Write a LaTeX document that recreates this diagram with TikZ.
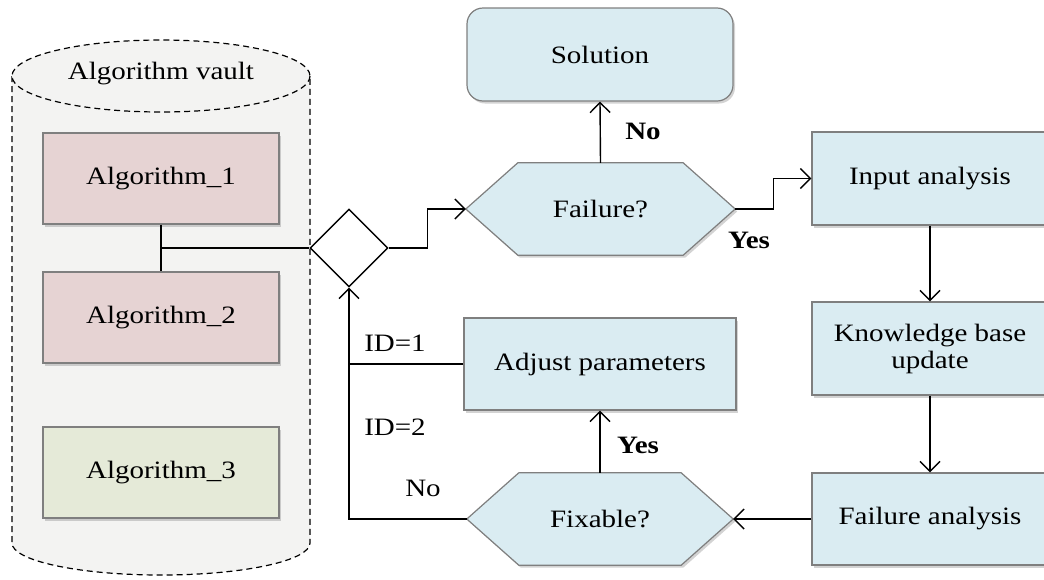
\documentclass[tikz,border=0pt]{standalone}
\usepackage{fontspec}
\setmainfont{Liberation Serif}[FakeStretch=1.16]
\usetikzlibrary{shapes.geometric,arrows.meta,calc,shadows,backgrounds}

\definecolor{boxblue}{HTML}{DAECF2}
\definecolor{boxpink}{HTML}{E6D3D3}
\definecolor{boxgreen}{HTML}{E5EAD8}
\definecolor{boxedge}{HTML}{7F7F7F}
\definecolor{vaultfill}{HTML}{F3F3F2}

\tikzset{
  x=1pt, y=-1pt,
  lbl/.style={font=\fontsize{25}{27}\selectfont, text=black},
  boldlbl/.style={font=\fontsize{25}{27}\selectfont\bfseries, text=black},
  shade/.style={drop shadow={opacity=0.35, shadow xshift=2pt, shadow yshift=-2.5pt}},
  procbox/.style={lbl, rectangle, draw=boxedge, line width=1.2pt, fill=boxblue,
    shade, align=center, inner sep=0pt},
  algbox/.style={lbl, rectangle, draw=boxedge, line width=1.2pt, shade,
    minimum width=236pt, minimum height=91pt, inner sep=0pt},
  hexcore/.style={lbl, rectangle, draw=none, inner sep=0pt},
  hexfill/.style={draw=boxedge, line width=1.2pt, fill=boxblue, shade},
  link/.style={draw=black, line width=1.4pt},
  arr/.style={link, -{Straight Barb[length=10pt, width=20pt, line width=1.4pt]}},
}

\begin{document}
\begin{tikzpicture}
\useasboundingbox (0,0) rectangle (1044,579);

% algorithm vault cylinder
\path[fill=vaultfill, draw=black, line width=1.2pt, dash pattern=on 6pt off 4pt]
  (12,76) -- (12,543) arc[start angle=180, end angle=0, x radius=149, y radius=32]
  -- (310,76);
\path[fill=vaultfill, draw=black, line width=1.2pt, dash pattern=on 6pt off 4pt]
  (161,76) ellipse[x radius=149, y radius=36];
\node[lbl] (vault) at (161,74) {Algorithm vault};

% algorithm boxes
\node[algbox, fill=boxpink]  (a1) at (161,178.5) {Algorithm\_1};
\node[algbox, fill=boxpink]  (a2) at (161,317.5) {Algorithm\_2};
\node[algbox, fill=boxgreen] (a3) at (161,472.5) {Algorithm\_3};

% selector
\node[diamond, draw=black, fill=white, line width=1.4pt, minimum width=78pt,
      minimum height=78pt, inner sep=0pt] (dia) at (349,248) {};

% process boxes
\node[procbox, rounded corners=16pt, minimum width=266pt, minimum height=93pt] (sol) at (600,54.5) {Solution};
\node[procbox, minimum width=236pt, minimum height=93pt] (inp) at (930,178.5) {Input analysis};
\node[procbox, minimum width=236pt, minimum height=93pt] (kb)  at (930,348.5) {Knowledge base\\update};
\node[procbox, minimum width=236pt, minimum height=92pt] (fa)  at (930,519) {Failure analysis};
\node[procbox, minimum width=272pt, minimum height=92pt] (adj) at (600,364) {Adjust parameters};

% decisions
\node[hexcore, minimum width=269pt, minimum height=92pt] (fail) at (600.5,209) {Failure?};
\node[hexcore, minimum width=266pt, minimum height=92pt] (fix)  at (600,519) {Fixable?};

\begin{scope}[on background layer]
  \foreach \h in {fail,fix}{
    \path[hexfill] (\h.west) -- ([xshift=52pt]\h.north west) -- ([xshift=-52pt]\h.north east)
      -- (\h.east) -- ([xshift=-52pt]\h.south east) -- ([xshift=52pt]\h.south west) -- cycle;
  }
\end{scope}

% connectors
\coordinate (j) at (a1.south |- dia.west);
\draw[link] (a1.south) -- (a2.north);
\draw[link] (j) -- (dia.west);

\coordinate (m1) at ($(dia.east)!0.5!(fail.west)$);
\draw[arr] (dia.east) -| (m1) |- (fail.west);

\coordinate (m2) at ($(fail.east)!0.5!(inp.west)$);
\draw[arr] (fail.east) -| (m2) |- (inp.west);

\draw[arr] (fail.north) -- (sol.south);
\draw[arr] (inp.south) -- (kb.north);
\draw[arr] (kb.south) -- (fa.north);
\draw[arr] (fa.west) -- (fix.east);
\draw[arr] (fix.north) -- (adj.south);

\coordinate (r1) at (dia.south |- adj.west);
\coordinate (r2) at (dia.south |- fix.west);
\draw[link] (adj.west) -- (r1);
\draw[arr] (fix.west) -- (r2) -- (dia.south);

% branch labels
\node[boldlbl] (lno)   at (643,131) {No};
\node[boldlbl] (lyes)  at (749,240) {Yes};
\node[boldlbl] (lyes2) at (638,445) {Yes};
\node[lbl] (id1) at (395,343) {ID=1};
\node[lbl] (id2) at (395,427) {ID=2};
\node[lbl] (lno2) at (423,488) {No};
\end{tikzpicture}
\end{document}
